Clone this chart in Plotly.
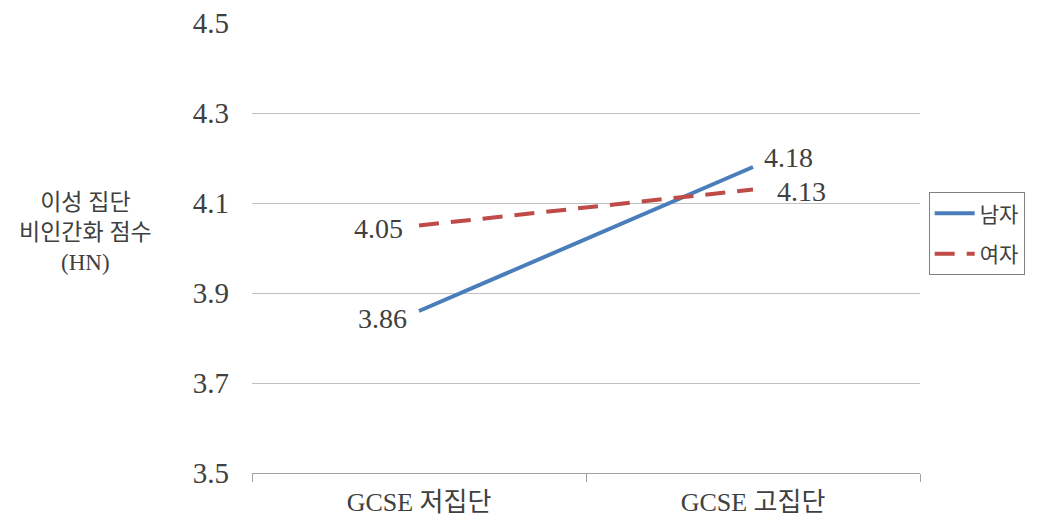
import plotly.graph_objects as go

# Data
categories = ["GCSE 저집단", "GCSE 고집단"]
male_scores = [3.86, 4.18]
female_scores = [4.05, 4.13]
series_names = ["남자", "여자"]
y_ticks = [3.5, 3.7, 3.9, 4.1, 4.3, 4.5]

FONT = "'Liberation Serif', 'Noto Sans CJK KR', serif"
TXT = "#404040"

fig = go.Figure()

fig.add_trace(go.Scatter(
    x=categories, y=male_scores, name=series_names[0], legendgroup="m",
    mode="lines",
    line=dict(color="#4a7ebb", width=4),
))
fig.add_trace(go.Scatter(
    x=categories, y=female_scores, name=series_names[1], legendgroup="f",
    mode="lines",
    line=dict(color="#be4b48", width=4, dash="20px,12px"),
))

# value labels placed beside each line end
label_style = [
    # (series values, per-point (xanchor, xshift, yshift))
    (male_scores, [("right", -10, -7), ("left", 9, 10)]),
    (female_scores, [("right", -14, -3), ("left", 22, -2)]),
]
for values, placement in label_style:
    for cat, v, (anchor, dx, dy) in zip(categories, values, placement):
        fig.add_annotation(
            x=cat, y=v, text=f"{v:.2f}", showarrow=False,
            xanchor=anchor, yanchor="middle", xshift=dx, yshift=dy,
            font=dict(family=FONT, size=28, color=TXT),
        )

fig.add_annotation(
    text="이성 집단<br>비인간화 점수<br>(HN)",
    xref="paper", yref="paper", x=-0.25, y=0.535,
    xanchor="center", yanchor="middle", showarrow=False,
    font=dict(family=FONT, size=23, color=TXT), align="center",
)

fig.update_layout(
    width=1038, height=528,
    margin=dict(l=252, r=118, t=23, b=55),
    paper_bgcolor="white", plot_bgcolor="white",
    font=dict(family=FONT, color=TXT),
    legend=dict(
        x=1.013, y=0.624, xanchor="left", yanchor="top",
        bordercolor="#808080", borderwidth=1, bgcolor="white",
        font=dict(family=FONT, size=21, color=TXT),
        itemwidth=40, tracegroupgap=10,
    ),
    xaxis=dict(
        type="category", range=[-0.5, 1.5], automargin=False,
        showline=True, linecolor="#a0a0a0", linewidth=1,
        ticks="outside", tickson="boundaries", ticklen=8, tickcolor="#a0a0a0",
        showgrid=False, ticklabelstandoff=6,
        tickfont=dict(family=FONT, size=26, color=TXT),
    ),
    yaxis=dict(
        range=[3.5, 4.5], tickvals=y_ticks, automargin=False,
        ticktext=[f"{v:.1f}" for v in y_ticks],
        showgrid=True, gridcolor="#c0c0c0", gridwidth=1,
        showline=False, zeroline=False, ticks="",
        ticklabelstandoff=22,
        tickfont=dict(family=FONT, size=29, color=TXT),
    ),
)

fig.write_html("out.html")
